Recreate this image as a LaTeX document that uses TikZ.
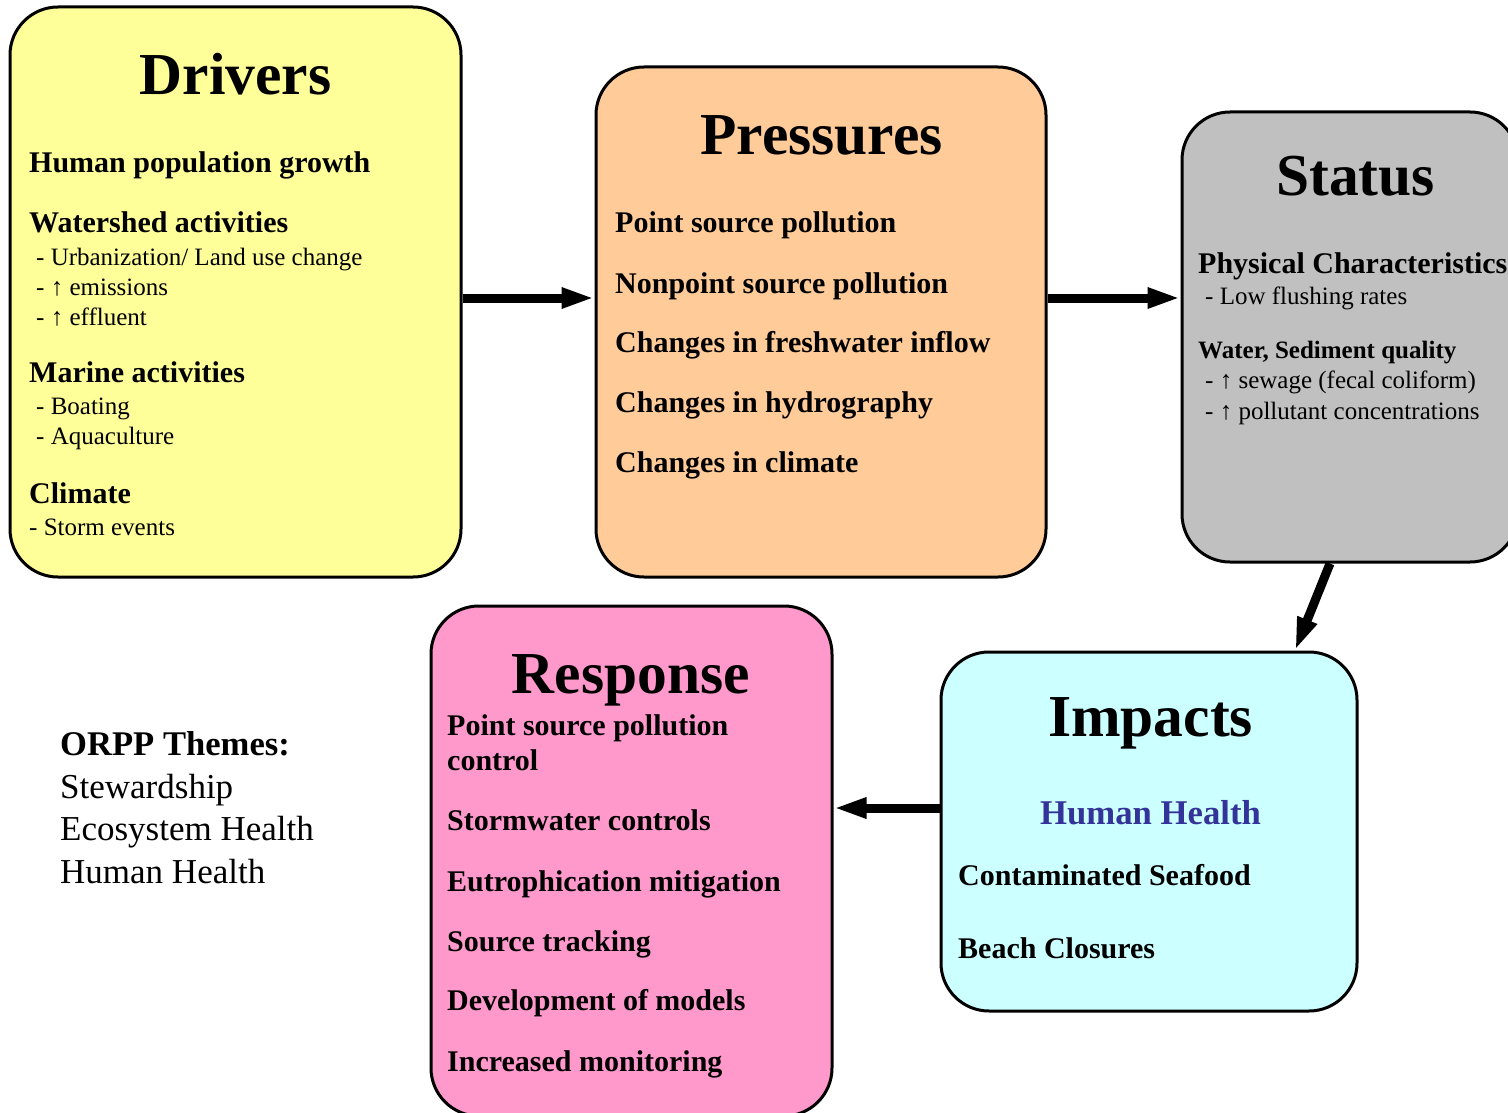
\documentclass[tikz,border=0pt]{standalone}
\usepackage{fontspec}
\setmainfont{Liberation Serif}
\usetikzlibrary{arrows.meta}
\definecolor{cDrv}{HTML}{FFFF99}
\definecolor{cPrs}{HTML}{FFCC99}
\definecolor{cSta}{HTML}{C0C0C0}
\definecolor{cImp}{HTML}{CCFFFF}
\definecolor{cRsp}{HTML}{FF99CC}
\definecolor{cBlue}{HTML}{333399}
\begin{document}
\begin{tikzpicture}[x=1pt,y=-1pt,
  box/.style={draw=black, line width=3pt, rounded corners=48pt, inner sep=0pt},
  title/.style={anchor=base, font=\fontsize{59.5}{60}\selectfont\bfseries, inner sep=0pt},
  head/.style={anchor=base west, font=\fontsize{30}{30}\selectfont\bfseries, inner sep=0pt},
  shead/.style={anchor=base west, font=\fontsize{25}{25}\selectfont\bfseries, inner sep=0pt},
  sub/.style={anchor=base west, font=\fontsize{25}{25}\selectfont, inner sep=0pt},
  theme/.style={anchor=base west, font=\fontsize{35}{35}\selectfont, inner sep=0pt},
  conn/.style={line width=9pt, -{Triangle[length=33pt,width=19pt]}}
]
\clip (0,0) rectangle (1508,1113);
\fill[white] (0,0) rectangle (1508,1113);

% boxes
\node[box, fill=cDrv, minimum width=451pt, minimum height=570pt] (drivers) at (235.5,292) {};
\node[box, fill=cPrs, minimum width=450pt, minimum height=510pt] (pressures) at (821,322) {};
\node[box, fill=cSta, minimum width=336pt, minimum height=450pt] (status) at (1350,337) {};
\node[box, fill=cImp, minimum width=416pt, minimum height=359pt] (impacts) at (1149,831.5) {};
\node[box, fill=cRsp, minimum width=401pt, minimum height=510pt] (response) at (631.5,861) {};

% connectors
\coordinate (yA) at (0,298);
\coordinate (yB) at (0,808);
\coordinate (sA) at (1330,0);
\coordinate (iA) at (1295,0);
\draw[conn] (drivers.east |- yA) -- (pressures.west |- yA);
\draw[conn] (pressures.east |- yA) -- (status.west |- yA);
\draw[conn] (status.south -| sA) -- (impacts.north -| iA);
\draw[conn] (impacts.west |- yB) -- (response.east |- yB);

% Drivers
\node[title] (tDrv) at (235.5,95) {Drivers};
\node[head] (d1) at (29,172) {Human population growth};
\node[head] (d2) at (29,232) {Watershed activities};
\node[sub] (d3) at (36,265) {- Urbanization/ Land use change};
\node[sub] (d4) at (36,295) {- ↑ emissions};
\node[sub] (d5) at (36,325) {- ↑ effluent};
\node[head] (d6) at (29,382) {Marine activities};
\node[sub] (d7) at (36,414) {- Boating};
\node[sub] (d8) at (36,444) {- Aquaculture};
\node[head] (d9) at (29,503) {Climate};
\node[sub] (d10) at (29,535) {- Storm events};

% Pressures
\node[title] (tPrs) at (821.5,155) {Pressures};
\node[head] (p1) at (615,232) {Point source pollution};
\node[head] (p2) at (615,293) {Nonpoint source pollution};
\node[head] (p3) at (615,352) {Changes in freshwater inflow};
\node[head] (p4) at (615,412) {Changes in hydrography};
\node[head] (p5) at (615,472) {Changes in climate};

% Status
\node[title] (tSta) at (1355.5,195) {Status};
\node[head] (s1) at (1198,273) {Physical Characteristics};
\node[sub] (s2) at (1205,304) {- Low flushing rates};
\node[shead] (s3) at (1198,358) {Water, Sediment quality};
\node[sub] (s4) at (1205,388) {- ↑ sewage (fecal coliform)};
\node[sub] (s5) at (1205,419) {- ↑ pollutant concentrations};

% Impacts
\node[title] (tImp) at (1150.5,736) {Impacts};
\node[anchor=base, inner sep=0pt, text=cBlue, font=\fontsize{34.7}{35}\selectfont\bfseries] (i1) at (1150.5,824) {Human Health};
\node[head] (i2) at (958,885) {Contaminated Seafood};
\node[head] (i3) at (958,958) {Beach Closures};

% Response
\node[title] (tRsp) at (631,693) {Response};
\node[head] (r1) at (447,735) {Point source pollution};
\node[head] (r2) at (447,770) {control};
\node[head] (r3) at (447,830) {Stormwater controls};
\node[head] (r4) at (447,891) {Eutrophication mitigation};
\node[head] (r5) at (447,951) {Source tracking};
\node[head] (r6) at (447,1010) {Development of models};
\node[head] (r7) at (447,1071) {Increased monitoring};

% Themes
\node[theme, font=\fontsize{34.6}{35}\selectfont\bfseries] (o1) at (60,755) {ORPP Themes:};
\node[theme] (o2) at (60,798) {Stewardship};
\node[theme] (o3) at (60,840) {Ecosystem Health};
\node[theme] (o4) at (60,883) {Human Health};
\end{tikzpicture}
\end{document}
